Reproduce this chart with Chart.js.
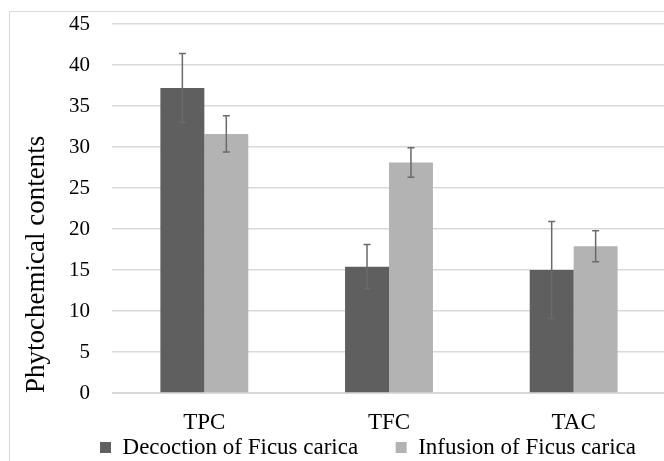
<!DOCTYPE html>
<html>
<head>
<meta charset="utf-8">
<script src="https://cdn.jsdelivr.net/npm/chart.js@4"></script>
<style>
  html, body { margin: 0; padding: 0; background: #fff; overflow: hidden; }
  #wrap { position: relative; width: 670px; height: 461px; }
</style>
</head>
<body>
<div id="wrap"><canvas id="chart" width="670" height="461"></canvas></div>
<script>
const categories = ['TPC', 'TFC', 'TAC'];
const seriesNames = ['Decoction of Ficus carica', 'Infusion of Ficus carica'];
const decoction = [37.2, 15.4, 15.0];
const decoctionErr = [4.2, 2.7, 5.9];
const infusion = [31.6, 28.1, 17.9];
const infusionErr = [2.2, 1.8, 1.9];
const yTicks = [0, 5, 10, 15, 20, 25, 30, 35, 40, 45];

const errors = [decoctionErr, infusionErr];
const serif = 'Liberation Serif, Times New Roman, serif';

// frame round the chart, legend nudge and error bars on top of the bars
const extras = {
    id: 'extras',
    afterLayout(chart) {
        chart.legend.left += 70;
    },
    beforeDraw(chart) {
        const ctx = chart.ctx;
        ctx.save();
        ctx.strokeStyle = '#d9d9d9';
        ctx.lineWidth = 1;
        ctx.strokeRect(9.5, 11.5, 700, 500);
        ctx.restore();
    },
    afterDatasetsDraw(chart) {
        const ctx = chart.ctx;
        const y = chart.scales.y;
        ctx.save();
        ctx.strokeStyle = '#6a6a6a';
        ctx.lineWidth = 1.5;
        chart.data.datasets.forEach((ds, i) => {
            const meta = chart.getDatasetMeta(i);
            meta.data.forEach((bar, j) => {
                const v = ds.data[j];
                const e = errors[i][j];
                const top = y.getPixelForValue(v + e);
                const bot = y.getPixelForValue(v - e);
                ctx.beginPath();
                ctx.moveTo(bar.x, top);
                ctx.lineTo(bar.x, bot);
                ctx.moveTo(bar.x - 3.5, top);
                ctx.lineTo(bar.x + 3.5, top);
                ctx.moveTo(bar.x - 3.5, bot);
                ctx.lineTo(bar.x + 3.5, bot);
                ctx.stroke();
            });
        });
        ctx.restore();
    }
};

const baseLabels = Chart.defaults.plugins.legend.labels.generateLabels;

new Chart(document.getElementById('chart'), {
    type: 'bar',
    data: {
        labels: categories,
        datasets: [
            { label: seriesNames[0], data: decoction, backgroundColor: '#5f5f5f' },
            { label: seriesNames[1], data: infusion, backgroundColor: '#b3b3b3' }
        ]
    },
    options: {
        responsive: false,
        animation: false,
        datasets: { bar: { categoryPercentage: 0.476, barPercentage: 1 } },
        layout: { padding: { top: 0, right: 4, left: 0, bottom: -8 } },
        plugins: {
            legend: {
                position: 'bottom',
                labels: {
                    boxWidth: 11,
                    boxHeight: 11,
                    padding: 3,
                    color: '#000',
                    font: { family: serif, size: 23, lineHeight: 1 },
                    // wider gap between the two entries, as in the original
                    generateLabels(chart) {
                        const items = baseLabels(chart);
                        items[0].text = items[0].text + '      ';
                        return items;
                    }
                }
            },
            tooltip: { enabled: false }
        },
        scales: {
            x: {
                afterFit(scale) { scale.height = 40; },
                grid: { display: false, drawTicks: false },
                border: { color: '#d9d9d9', width: 1 },
                ticks: { color: '#000', padding: 18, font: { family: serif, size: 23, lineHeight: 1 } }
            },
            y: {
                min: 0,
                max: 45,
                afterBuildTicks(scale) { scale.ticks = yTicks.map(v => ({ value: v })); },
                afterFit(scale) {
                    scale.width = 112;
                    scale.paddingTop = 24;
                    scale.paddingBottom = 0;
                },
                grid: { color: '#d9d9d9', lineWidth: 1.5, drawTicks: false },
                border: { display: false },
                ticks: { color: '#000', padding: 22, font: { family: serif, size: 21 } },
                title: {
                    display: true,
                    text: 'Phytochemical contents',
                    align: 'start',
                    color: '#000',
                    padding: { top: 21, bottom: 0 },
                    font: { family: serif, size: 27 }
                }
            }
        }
    },
    plugins: [extras]
});
</script>
</body>
</html>
